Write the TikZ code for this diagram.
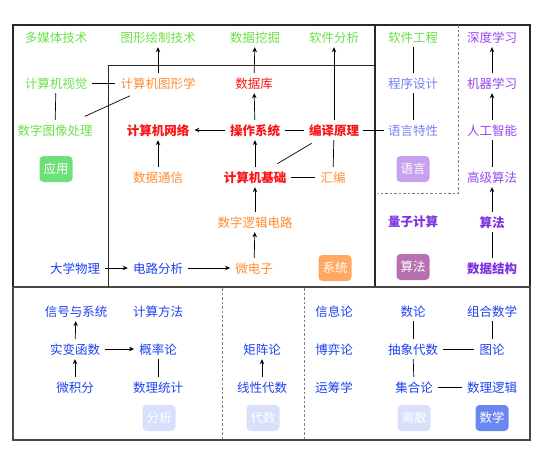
\documentclass[tikz,border=0pt]{standalone}
\usepackage{fontspec}
\setmainfont{Noto Sans CJK SC}
\usetikzlibrary{arrows.meta}
\definecolor{cgreen}{RGB}{108,224,72}
\definecolor{corange}{RGB}{255,140,50}
\definecolor{cred}{RGB}{250,20,20}
\definecolor{clang}{RGB}{115,130,240}
\definecolor{cpurple}{RGB}{150,70,240}
\definecolor{cdpurple}{RGB}{125,50,225}
\definecolor{cblue}{RGB}{30,65,240}
\definecolor{bapp}{RGB}{110,224,120}
\definecolor{bsys}{RGB}{255,168,100}
\definecolor{blang}{RGB}{200,160,240}
\definecolor{balg}{RGB}{184,112,176}
\definecolor{blight}{RGB}{216,224,252}
\definecolor{bmath}{RGB}{106,136,240}
\definecolor{frame}{RGB}{40,40,40}
\begin{document}
\begin{tikzpicture}[x=1pt,y=-1pt,
  lbl/.style={font=\fontsize{12.5}{15}\selectfont, inner sep=3pt, text height=10pt, text depth=0pt},
  app/.style={lbl, text=cgreen},
  sysc/.style={lbl, text=corange},
  core/.style={lbl, text=cred, font=\fontsize{12.5}{15}\selectfont\bfseries},
  lang/.style={lbl, text=clang},
  ail/.style={lbl, text=cpurple},
  algl/.style={lbl, text=cdpurple, font=\fontsize{12.5}{15}\selectfont\bfseries},
  mth/.style={lbl, text=cblue},
  badge/.style={fill=#1, rounded corners=4pt, text=white, minimum width=33pt, minimum height=26pt, inner sep=1pt, font=\fontsize{12.5}{15}\selectfont},
  link/.style={draw=black, line width=0.7pt, shorten <=2pt, shorten >=2pt},
  arr/.style={link, -{Stealth[length=5pt,width=4.5pt]}},
  thickframe/.style={draw=frame, line width=1.6pt},
  thinframe/.style={draw=frame, line width=0.8pt},
  sep/.style={draw=gray, line width=0.6pt, dash pattern=on 2.5pt off 2pt}
]
\useasboundingbox (0,0) rectangle (549,455);
% frames
\draw[thinframe] (375,65) -- (108,65) -- (108,287);
\draw[thickframe] (13,25) rectangle (375,287);
\draw[thickframe] (375,25) rectangle (530,287);
\draw[sep] (458,25) -- (458,193) -- (378,193);
\draw[sep] (222,288) -- (222,440);
\draw[sep] (304,288) -- (304,440);
\draw[draw=frame!85, line width=1.6pt] (13,287) rectangle (530,440);

% application row
\node[app] (mmt) at (56,37) {多媒体技术};
\node[app] (gdt) at (158,37) {图形绘制技术};
\node[app] (dm) at (255,37) {数据挖掘};
\node[app] (sa) at (334,37) {软件分析};
\node[app] (se) at (413,37) {软件工程};
\node[ail] (dl) at (492,37) {深度学习};

\node[app] (cv) at (56,83) {计算机视觉};
\node[sysc] (cg) at (158,83) {计算机图形学};
\node[lbl, text=cred] (db) at (254,83) {数据库};
\node[lang] (pd) at (413,83) {程序设计};
\node[ail] (ml) at (492,83) {机器学习};

\node[app] (dip) at (55,130) {数字图像处理};
\node[core] (cn) at (158,130) {计算机网络};
\node[core] (os) at (255,130) {操作系统};
\node[core] (cp) at (334,130) {编译原理};
\node[lang] (lf) at (413,130) {语言特性};
\node[ail] (ai) at (492,130) {人工智能};

\node[badge=bapp] (bapp) at (56,169) {应用};
\node[sysc] (dc) at (158,177) {数据通信};
\node[core] (cb) at (255,177) {计算机基础};
\node[sysc] (asm) at (333,177) {汇编};
\node[badge=blang] (blang) at (413,169) {语言};
\node[ail] (aa) at (492,177) {高级算法};

\node[sysc] (dlc) at (255,222) {数字逻辑电路};
\node[algl] (qc) at (413,221) {量子计算};
\node[algl] (alg) at (492,222) {算法};

\node[mth] (phy) at (75,268) {大学物理};
\node[mth] (ca) at (158,268) {电路分析};
\node[sysc] (me) at (254,268) {微电子};
\node[badge=bsys] (bsys) at (335,268) {系统};
\node[badge=balg] (balg) at (413,267) {算法};
\node[algl] (ds) at (492,268) {数据结构};

% math
\node[mth] (ss) at (76,311) {信号与系统};
\node[mth] (cm) at (158,311) {计算方法};
\node[mth] (it) at (334,311) {信息论};
\node[mth] (nt) at (413,311) {数论};
\node[mth] (comb) at (492,311) {组合数学};

\node[mth] (rf) at (75,349) {实变函数};
\node[mth] (pt) at (158,349) {概率论};
\node[mth] (mt) at (262,349) {矩阵论};
\node[mth] (gt) at (334,349) {博弈论};
\node[mth] (abs) at (413,349) {抽象代数};
\node[mth] (gr) at (492,349) {图论};

\node[mth] (calc) at (75,387) {微积分};
\node[mth] (st) at (158,387) {数理统计};
\node[mth] (la) at (262,387) {线性代数};
\node[mth] (orr) at (334,387) {运筹学};
\node[mth] (setl) at (414,387) {集合论};
\node[mth] (logic) at (492,387) {数理逻辑};

\node[badge=blight] (ban) at (159,418) {分析};
\node[badge=blight] (balgb) at (263,418) {代数};
\node[badge=blight] (bdisc) at (414,418) {离散};
\node[badge=bmath] (bmath) at (492,418) {数学};

% connectors
\draw[arr] (cg) -- (gdt);
\draw[link] (cv) -- (cg);
\draw[link] (cv) -- (dip);
\draw[link, shorten <=13pt, shorten >=11pt] (dip) -- (cg);
\draw[arr] (db) -- (dm);
\draw[arr] (cp) -- (sa);
\draw[arr] (os) -- (db);
\draw[arr] (os) -- (cn);
\draw[link] (os) -- (cp);
\draw[link, shorten <=0.5pt, shorten >=0.5pt] (cp) -- (lf);
\draw[link] (se) -- (pd);
\draw[link] (pd) -- (lf);
\draw[arr] (ai) -- (ml);
\draw[arr] (ml) -- (dl);
\draw[link] (aa) -- (ai);
\draw[arr] (alg) -- (aa);
\draw[link] (ds) -- (alg);
\draw[arr] (cb) -- (os);
\draw[link, shorten <=10pt, shorten >=10pt] (cb) -- (cp);
\draw[link] (cb) -- (asm);
\draw[link] (asm) -- (cp);
\draw[arr] (dc) -- (cn);
\draw[arr] (dlc) -- (cb);
\draw[arr] (me) -- (dlc);
\draw[arr] (ca) -- (me);
\draw[arr] (phy) -- (ca);

\draw[arr] (rf) -- (ss);
\draw[arr] (calc) -- (rf);
\draw[arr] (rf) -- (pt);
\draw[link] (pt) -- (st);
\draw[arr] (la) -- (mt);
\draw[link] (nt) -- (abs);
\draw[link] (abs) -- (setl);
\draw[link] (abs) -- (gr);
\draw[link] (comb) -- (gr);
\draw[link] (setl) -- (logic);
\end{tikzpicture}
\end{document}
